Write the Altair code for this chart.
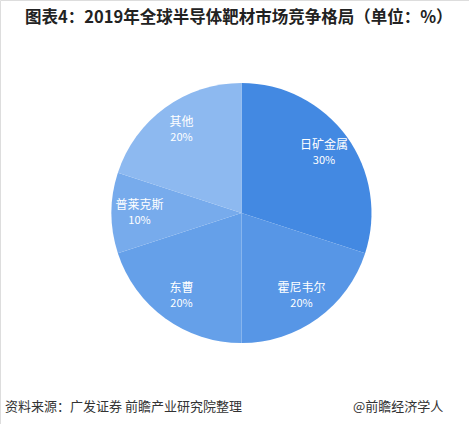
import altair as alt
import pandas as pd

names = ["日矿金属", "霍尼韦尔", "东曹", "普莱克斯", "其他"]
values = [30, 20, 20, 10, 20]
pct_labels = ["30%", "20%", "20%", "10%", "20%"]
colors = ["#4389e2", "#5796e6", "#65a0e9", "#77abec", "#8db9f0"]

title_text = "图表4：2019年全球半导体靶材市场竞争格局（单位：%）"
source_text = "资料来源：广发证券 前瞻产业研究院整理"
credit_text = "@前瞻经济学人"

df = pd.DataFrame({"name": names, "value": values, "pct": pct_labels, "order": list(range(len(names)))})

FONT = "Noto Sans CJK SC"
CX, CY, R = 241.5, 213, 130

base = alt.Chart(df).encode(
    theta=alt.Theta("value:Q", stack=True),
    order=alt.Order("order:Q"),
    x=alt.value(CX),
    y=alt.value(CY),
)

arcs = base.mark_arc(outerRadius=R).encode(
    color=alt.Color("name:N", scale=alt.Scale(domain=names, range=colors), legend=None)
)

name_txt = base.mark_text(font=FONT, fontSize=12, color="white", dy=-8, baseline="middle").encode(
    radius=alt.value(102), text="name:N"
)
pct_txt = base.mark_text(font=FONT, fontSize=11, color="white", dy=8, baseline="middle").encode(
    radius=alt.value(102), text="pct:N"
)

title = alt.Chart(pd.DataFrame({"t": [title_text]})).mark_text(
    font=FONT, fontSize=16.5, fontWeight="bold", color="#222222", align="left", baseline="middle"
).encode(x=alt.value(25), y=alt.value(18), text="t:N")

source = alt.Chart(pd.DataFrame({"t": [source_text]})).mark_text(
    font=FONT, fontSize=13, color="#333333", align="left", baseline="middle"
).encode(x=alt.value(5), y=alt.value(407), text="t:N")

credit = alt.Chart(pd.DataFrame({"t": [credit_text]})).mark_text(
    font=FONT, fontSize=13, color="#333333", align="left", baseline="middle"
).encode(x=alt.value(353), y=alt.value(407), text="t:N")

chart = alt.layer(arcs, name_txt, pct_txt, title, source, credit).properties(
    width=469, height=424, padding=0,
    autosize=alt.AutoSizeParams(type="none"),
).configure_view(stroke=None).configure(background="white")

chart.save("out.html", embed_options={"renderer": "svg", "actions": False})
